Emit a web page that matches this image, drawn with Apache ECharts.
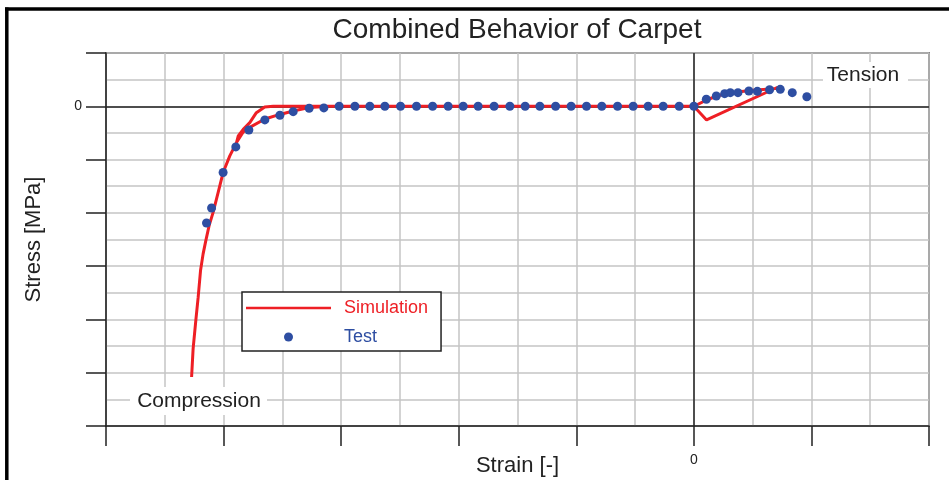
<!DOCTYPE html>
<html>
<head>
<meta charset="utf-8">
<script src="https://cdn.jsdelivr.net/npm/echarts@6/dist/echarts.min.js"></script>
<style>
html,body{margin:0;padding:0;background:#fff;}
#chart{width:949px;height:480px;}
</style>
</head>
<body>
<div id="chart"></div>
<script>
// ---- data (strain / stress in axis major-tick units; only 0 is labelled) ----
const chartTitle = 'Combined Behavior of Carpet';
const xName = 'Strain [-]';
const yName = 'Stress [MPa]';
const seriesNames = ['Simulation', 'Test'];

const simStrain = [-4.272,-4.259,-4.236,-4.216,-4.196,-4.174,-4.151,-4.123,-4.089,-4.046,-4.004,-3.947,-3.890,-3.833,-3.785,-3.649,-3.521,-3.408,-3.272,-3.096,0,0.108,0.196,0.306,0.476,0.646,0.757,0.703,0.108,0,-3.578,-3.650,-3.721,-3.777,-3.833,-3.875,-3.890];
const simStress = [-5.080,-4.548,-4.018,-3.582,-3.083,-2.770,-2.521,-2.240,-1.991,-1.617,-1.243,-0.930,-0.681,-0.481,-0.406,-0.238,-0.153,-0.088,-0.022,0,0,0.118,0.193,0.249,0.296,0.324,0.350,0.348,-0.256,0,0,-0.013,-0.120,-0.307,-0.432,-0.554,-0.681];

const testStrain = [-4.145,-4.102,-4.004,-3.896,-3.785,-3.649,-3.521,-3.408,-3.272,-3.147,-3.017,-2.883,-2.756,-2.628,-2.495,-2.359,-2.222,-2.090,-1.962,-1.835,-1.699,-1.565,-1.435,-1.310,-1.176,-1.044,-0.913,-0.783,-0.649,-0.516,-0.389,-0.261,-0.125,0,0.106,0.191,0.262,0.310,0.375,0.468,0.540,0.644,0.735,0.837,0.961];
const testStress = [-2.190,-1.909,-1.243,-0.762,-0.444,-0.256,-0.168,-0.101,-0.037,-0.030,0,0,0,0,0,0,0,0,0,0,0,0,0,0,0,0,0,0,0,0,0,0,0,0,0.131,0.193,0.237,0.256,0.256,0.287,0.281,0.311,0.318,0.256,0.180];

const xTickLabels = ['0'];
const yTickLabels = ['0'];
const annotations = ['Compression', 'Tension'];

// ---- chart ----
const RED = '#ee1f25';
const BLUE = '#2e4ea2';
const INK = '#222222';
const GRIDC = '#c4c4c4';
const FONT = 'Liberation Sans, Arial, sans-serif';

const simData = simStrain.map((x, i) => [x, simStress[i]]);
const testData = testStrain.map((x, i) => [x, testStress[i]]);

const chart = echarts.init(document.getElementById('chart'), null, {renderer: 'canvas'});

const option = {
  animation: false,
  backgroundColor: '#fff',
  textStyle: {fontFamily: FONT},
  title: {
    text: chartTitle,
    left: 517,
    top: 16,
    padding: 0,
    textAlign: 'center',
    textStyle: {fontSize: 28, fontWeight: 'normal', color: INK, fontFamily: FONT}
  },
  grid: {
    left: 106, right: 20, top: 53, bottom: 54,
    outerBoundsMode: 'none',
    containLabel: false,
    show: true, borderColor: INK, borderWidth: 1.5, backgroundColor: '#fff'
  },
  legend: {
    left: 242, top: 292,
    orient: 'vertical',
    backgroundColor: '#fff',
    borderColor: INK, borderWidth: 1.5, borderRadius: 0,
    padding: [7, 13, 5, 4],
    itemGap: 11,
    itemWidth: 85, itemHeight: 9,
    textStyle: {fontSize: 18, fontFamily: FONT, padding: [0, 0, 0, 8]},
    data: [
      {name: seriesNames[0], textStyle: {color: RED}, icon: 'path://M0,0 L100,0 L100,3.2 L0,3.2 Z', itemStyle: {color: RED}},
      {name: seriesNames[1], textStyle: {color: BLUE}, icon: 'circle'}
    ]
  },
  xAxis: [
    {
      type: 'value', min: -5, max: 2, interval: 0.5,
      axisLine: {show: false}, axisTick: {show: false}, axisLabel: {show: false},
      splitLine: {show: true, lineStyle: {color: GRIDC, width: 1.5}}
    },
    {
      type: 'value', min: -5, max: 2, interval: 1, position: 'bottom',
      axisLine: {show: true, onZero: false, lineStyle: {color: INK, width: 1.5}},
      axisTick: {show: true, inside: false, length: 20, lineStyle: {color: INK, width: 1.5}},
      splitLine: {show: false},
      axisLabel: {
        show: true, margin: 27, fontSize: 14, color: INK, fontFamily: FONT,
        formatter: v => (Math.abs(v) < 1e-9 ? xTickLabels[0] : '')
      },
      name: xName, nameLocation: 'middle', nameGap: 29, nameMoveOverlap: false,
      nameTextStyle: {fontSize: 22, color: INK, fontFamily: FONT}
    }
  ],
  yAxis: [
    {
      type: 'value', min: -6, max: 1, interval: 0.5,
      axisLine: {show: false}, axisTick: {show: false}, axisLabel: {show: false},
      splitLine: {show: true, lineStyle: {color: GRIDC, width: 1.5}}
    },
    {
      type: 'value', min: -6, max: 1, interval: 1, position: 'left',
      axisLine: {show: true, onZero: false, lineStyle: {color: INK, width: 1.5}},
      axisTick: {show: true, inside: false, length: 20, lineStyle: {color: INK, width: 1.5}},
      splitLine: {show: false},
      axisLabel: {
        show: true, margin: 24, fontSize: 14, color: INK, fontFamily: FONT,
        formatter: v => (Math.abs(v) < 1e-9 ? yTickLabels[0] : '')
      },
      name: yName, nameLocation: 'middle', nameGap: 61, nameMoveOverlap: false,
      nameTextStyle: {fontSize: 22, color: INK, fontFamily: FONT}
    }
  ],
  series: [
    {
      name: seriesNames[0], type: 'line', xAxisIndex: 0, yAxisIndex: 0,
      data: simData, symbol: 'none', z: 3,
      lineStyle: {color: RED, width: 3}, itemStyle: {color: RED},
      markLine: {
        silent: true, symbol: 'none', z: 1, animation: false,
        label: {show: false},
        lineStyle: {color: INK, width: 1.5, type: 'solid'},
        data: [{xAxis: 0}, {yAxis: 0}]
      }
    },
    {
      name: seriesNames[1], type: 'scatter', xAxisIndex: 0, yAxisIndex: 0,
      data: testData, symbol: 'circle', symbolSize: 9, z: 4,
      itemStyle: {color: BLUE, opacity: 1}
    }
  ],
  graphic: [
    {type: 'line', shape: {x1: 5, y1: 9, x2: 949, y2: 9}, style: {stroke: '#000', lineWidth: 3.5}, z: 100},
    {type: 'line', shape: {x1: 6.8, y1: 7.5, x2: 6.8, y2: 480}, style: {stroke: '#000', lineWidth: 3.5}, z: 100},
    {type: 'rect', shape: {x: 130, y: 387, width: 137, height: 28}, style: {fill: '#fff'}, z: 50},
    {type: 'text', x: 199, y: 401.5, z: 51,
     style: {text: annotations[0], fill: INK, font: '21px ' + FONT, textAlign: 'center', textVerticalAlign: 'middle'}},
    {type: 'rect', shape: {x: 823, y: 62, width: 85, height: 26}, style: {fill: '#fff'}, z: 50},
    {type: 'text', x: 863, y: 75.5, z: 51,
     style: {text: annotations[1], fill: INK, font: '21px ' + FONT, textAlign: 'center', textVerticalAlign: 'middle'}}
  ]
};
chart.setOption(option);
</script>
</body>
</html>
